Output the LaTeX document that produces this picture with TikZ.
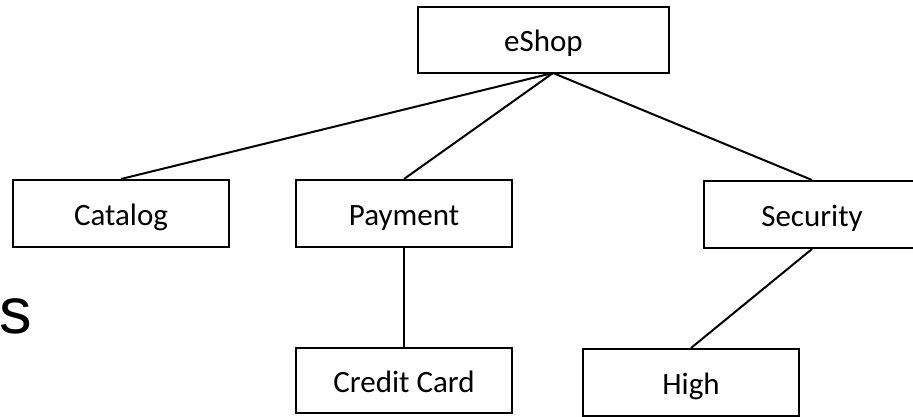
\documentclass[tikz,border=0pt]{standalone}
\usepackage{fontspec}
\setmainfont{Carlito}
\newfontfamily\bigsans{Liberation Sans}
\usepackage{tikz}

\begin{document}
\begin{tikzpicture}[x=1pt,y=-1pt,
    featbox/.style={draw, line width=2pt, minimum width=216pt, minimum height=67pt,
      inner sep=0pt, text height=28pt, text depth=5pt, font=\fontsize{31}{36}\selectfont},
    featline/.style={line width=2pt}]
    \useasboundingbox (0,0) rectangle (913,417);

      % root
    \node[featbox, minimum width=251pt, minimum height=66pt] (eShop) at (543.5,40) {eShop};
    \coordinate (eShopJoin) at (553,73);

      % first level
    \node[featbox] (catalog) at (121,213.5) {Catalog};
    \node[featbox] (payment) at (404,213.5) {Payment};
    \node[featbox] (security) at (812,214.5) {Security};

      % second level
    \node[featbox, minimum height=65pt] (credit) at (404,380.5) {Credit Card};
    \node[featbox] (high) at (691,382.5) {High};

      % left-over letter
    \node[anchor=base west, inner sep=0pt, font=\bigsans\fontsize{65}{70}\selectfont] (sLetter) at (-1,333) {s};

      % edges
    \draw[featline] (eShopJoin) -- (catalog.north);
    \draw[featline] (eShopJoin) -- (payment.north);
    \draw[featline] (eShopJoin) -- (security.north);
    \draw[featline] (payment.south) -- (credit.north);
    \draw[featline] (security.south) -- (high.north);
\end{tikzpicture}
\end{document}
